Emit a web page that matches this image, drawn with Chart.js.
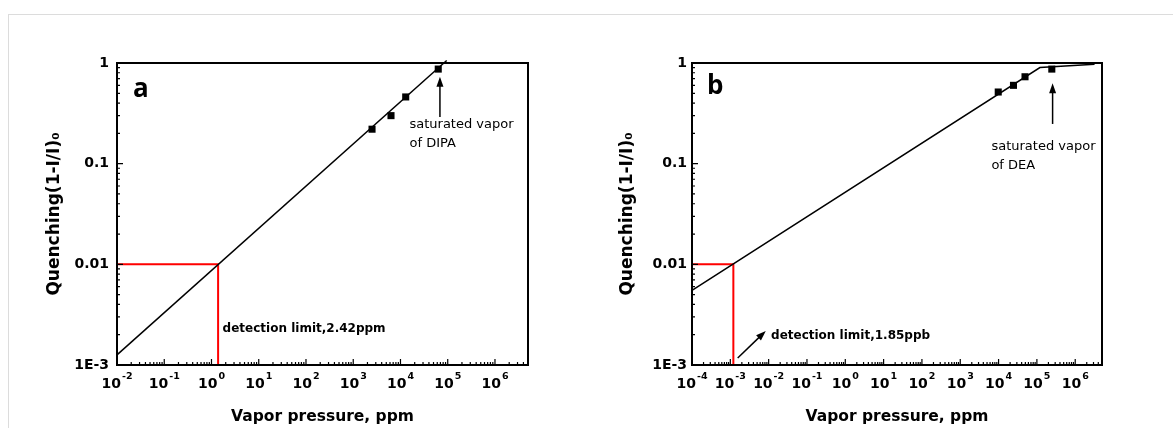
<!DOCTYPE html>
<html>
<head>
<meta charset="utf-8">
<script src="https://cdn.jsdelivr.net/npm/chart.js@4.4.0/dist/chart.umd.min.js"></script>
<style>
body { margin: 0; background: #fff; width: 1173px; height: 428px; overflow: hidden; position: relative; }
#frame { position: absolute; left: 8px; top: 14px; width: 1200px; height: 500px; border-top: 1px solid #dcdcdc; border-left: 1px solid #dcdcdc; }
#ca { position: absolute; left: 0; top: 0; }
#cb { position: absolute; left: 586px; top: 0; }
</style>
</head>
<body>
<div id="frame"></div>
<canvas id="ca" width="586" height="428"></canvas>
<canvas id="cb" width="587" height="428"></canvas>
<script>
// panel a: DIPA
const dipaX = [2500, 6300, 12900, 63000];
const dipaY = [0.22, 0.30, 0.46, 0.87];
const fitAX = [0.01, 95000];
const fitAY = [0.00126, 1.06];
const limitAX = [0.01, 1.38, 1.38];
const limitAY = [0.01, 0.01, 0.001];

// panel b: DEA
const deaX = [9800, 24500, 49000, 245000];
const deaY = [0.515, 0.60, 0.73, 0.87];
const fitBX = [0.0001, 120000, 3200000];
const fitBY = [0.0055, 0.90, 0.97];
const limitBX = [0.0001, 0.0012, 0.0012];
const limitBY = [0.01, 0.01, 0.001];

// axes
const yTicks = [0.001, 0.01, 0.1, 1];
const yLabels = ['1E-3', '0.01', '0.1', '1'];
const xTicksA = [1e-2, 1e-1, 1e0, 1e1, 1e2, 1e3, 1e4, 1e5, 1e6];
const xExpA = ['-2', '-1', '0', '1', '2', '3', '4', '5', '6'];
const xTicksB = [1e-4, 1e-3, 1e-2, 1e-1, 1e0, 1e1, 1e2, 1e3, 1e4, 1e5, 1e6];
const xExpB = ['-4', '-3', '-2', '-1', '0', '1', '2', '3', '4', '5', '6'];

Chart.defaults.font.family = '"DejaVu Sans", sans-serif';
Chart.defaults.color = '#000';

function pts(xs, ys) {
  return xs.map((x, i) => ({x: x, y: ys[i]}));
}

// inward log ticks, closed frame, 10^n labels, text and arrow notes
const notesPlugin = {
  id: 'notes',
  afterDatasetsDraw(chart, args, o) {
    const ctx = chart.ctx;
    const a = chart.chartArea;
    const xs = chart.scales.x, ys = chart.scales.y;
    ctx.save();
    ctx.strokeStyle = '#000';
    ctx.lineWidth = 1.2;
    ctx.beginPath();
    for (let d = Math.floor(Math.log10(xs.min)); d <= Math.ceil(Math.log10(xs.max)); d++) {
      for (let m = 1; m <= 9; m++) {
        const v = m * Math.pow(10, d);
        if (v < xs.min * 0.999 || v > xs.max * 1.001) continue;
        const px = xs.getPixelForValue(v);
        ctx.moveTo(px, a.bottom);
        ctx.lineTo(px, a.bottom - (m === 1 ? 6 : 3));
      }
    }
    for (let d = Math.floor(Math.log10(ys.min)); d <= Math.ceil(Math.log10(ys.max)); d++) {
      for (let m = 1; m <= 9; m++) {
        const v = m * Math.pow(10, d);
        if (v < ys.min * 0.999 || v > ys.max * 1.001) continue;
        const py = ys.getPixelForValue(v);
        ctx.moveTo(a.left, py);
        ctx.lineTo(a.left + (m === 1 ? 6 : 3), py);
      }
    }
    ctx.stroke();
    ctx.lineWidth = 2;
    ctx.strokeRect(a.left, a.top, a.right - a.left, a.bottom - a.top);

    // x tick labels as 10 with superscript exponent
    ctx.fillStyle = '#000';
    ctx.textBaseline = 'alphabetic';
    ctx.textAlign = 'left';
    const baseFont = 'bold 14px "DejaVu Sans", sans-serif';
    const expFont = 'bold 9.5px "DejaVu Sans", sans-serif';
    o.xTicks.forEach((v, i) => {
      ctx.font = baseFont;
      const w1 = ctx.measureText('10').width;
      ctx.font = expFont;
      const w2 = ctx.measureText(o.xExp[i]).width;
      const x = xs.getPixelForValue(v) - (w1 + w2 + 1) / 2;
      const y = a.bottom + 22.5;
      ctx.font = baseFont;
      ctx.fillText('10', x, y);
      ctx.font = expFont;
      ctx.fillText(o.xExp[i], x + w1 + 1, y - 8.5);
    });

    // arrows
    o.arrows.forEach(ar => {
      const x0 = xs.getPixelForValue(ar[0]), y0 = ys.getPixelForValue(ar[1]);
      const x1 = xs.getPixelForValue(ar[2]), y1 = ys.getPixelForValue(ar[3]);
      const ang = Math.atan2(y1 - y0, x1 - x0);
      ctx.lineWidth = 1.5;
      ctx.beginPath();
      ctx.moveTo(x0, y0);
      ctx.lineTo(x1 - 6 * Math.cos(ang), y1 - 6 * Math.sin(ang));
      ctx.stroke();
      ctx.beginPath();
      ctx.moveTo(x1, y1);
      ctx.lineTo(x1 - 10 * Math.cos(ang) + 3.5 * Math.sin(ang), y1 - 10 * Math.sin(ang) - 3.5 * Math.cos(ang));
      ctx.lineTo(x1 - 10 * Math.cos(ang) - 3.5 * Math.sin(ang), y1 - 10 * Math.sin(ang) + 3.5 * Math.cos(ang));
      ctx.closePath();
      ctx.fill();
    });

    // texts
    ctx.textBaseline = 'middle';
    o.texts.forEach(t => {
      ctx.font = t.font;
      const x = xs.getPixelForValue(t.x), y = ys.getPixelForValue(t.y);
      t.lines.forEach((ln, i) => ctx.fillText(ln, x, y + i * 19));
    });
    ctx.restore();
  }
};

function makeConfig(p) {
  return {
    type: 'scatter',
    data: {
      datasets: [
        {
          data: p.points,
          pointStyle: 'rect',
          pointRadius: 5,
          backgroundColor: '#000',
          borderWidth: 0
        },
        {
          data: p.fit,
          showLine: true,
          borderColor: '#000',
          borderWidth: 1.5,
          pointRadius: 0,
          clip: false
        },
        {
          data: p.limit,
          showLine: true,
          borderColor: '#ff0000',
          borderWidth: 2,
          pointRadius: 0
        }
      ]
    },
    options: {
      responsive: false,
      animation: false,
      events: [],
      layout: {padding: p.pad},
      plugins: {
        legend: {display: false},
        tooltip: {enabled: false},
        notes: {arrows: p.arrows, texts: p.texts, xTicks: p.xTicks, xExp: p.xExp}
      },
      scales: {
        x: {
          type: 'logarithmic',
          min: p.xmin,
          max: 5e6,
          grid: {display: false, drawTicks: false},
          border: {display: false},
          afterBuildTicks: s => { s.ticks = p.xTicks.map(v => ({value: v})); },
          afterFit: s => { s.height = 63; },
          ticks: {display: false},
          title: {
            display: true,
            text: 'Vapor pressure, ppm',
            font: {size: 15.5, weight: 'bold'},
            padding: {top: 0, bottom: 2}
          }
        },
        y: {
          type: 'logarithmic',
          min: 0.001,
          max: 1,
          grid: {display: false, drawTicks: false},
          border: {display: false},
          afterBuildTicks: s => { s.ticks = yTicks.map(v => ({value: v})); },
          afterFit: s => { s.width = p.yWidth; },
          ticks: {
            padding: p.yPad,
            font: {size: 14, weight: 'bold'},
            callback: v => yLabels[yTicks.indexOf(v)]
          },
          title: {
            display: true,
            text: 'Quenching(1-I/I)₀',
            font: {size: 17, weight: 'bold'},
            padding: {top: p.yTitlePad, bottom: 0}
          }
        }
      }
    },
    plugins: [notesPlugin]
  };
}

const letterFont = 'bold 26px "Open Sans", sans-serif';
const noteFont = '13px "DejaVu Sans", sans-serif';
const limitFont = 'bold 12px "DejaVu Sans", sans-serif';

window.onload = function() {
  new Chart(document.getElementById('ca').getContext('2d'), makeConfig({
    points: pts(dipaX, dipaY),
    fit: pts(fitAX, fitAY),
    limit: pts(limitAX, limitAY),
    xmin: 0.01,
    xTicks: xTicksA,
    xExp: xExpA,
    pad: {left: 0, top: 63, right: 58, bottom: 0},
    yWidth: 117,
    yPad: 8,
    yTitlePad: 44,
    arrows: [[68400, 0.29, 68400, 0.73]],
    texts: [
      {x: 0.0218, y: 0.55, font: letterFont, lines: ['a']},
      {x: 15500, y: 0.242, font: noteFont, lines: ['saturated vapor', 'of DIPA']},
      {x: 1.72, y: 0.00228, font: limitFont, lines: ['detection limit,2.42ppm']}
    ]
  }));

  new Chart(document.getElementById('cb').getContext('2d'), makeConfig({
    points: pts(deaX, deaY),
    fit: pts(fitBX, fitBY),
    limit: pts(limitBX, limitBY),
    xmin: 0.0001,
    xTicks: xTicksB,
    xExp: xExpB,
    pad: {left: 0, top: 63, right: 71, bottom: 0},
    yWidth: 106,
    yPad: 5,
    yTitlePad: 31,
    arrows: [[257000, 0.248, 257000, 0.63], [0.00156, 0.001175, 0.0084, 0.00218]],
    texts: [
      {x: 0.000246, y: 0.578, font: letterFont, lines: ['b']},
      {x: 6500, y: 0.147, font: noteFont, lines: ['saturated vapor', 'of DEA']},
      {x: 0.01156, y: 0.001945, font: limitFont, lines: ['detection limit,1.85ppb']}
    ]
  }));
};
</script>
</body>
</html>
